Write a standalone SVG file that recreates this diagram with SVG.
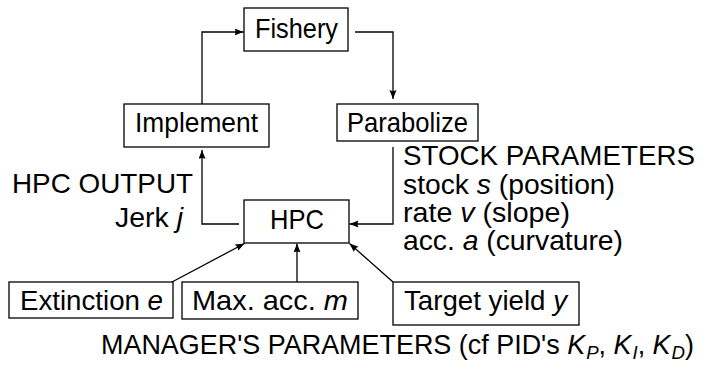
<svg xmlns="http://www.w3.org/2000/svg" width="704" height="365" viewBox="0 0 704 365">
  <style>
    .box { fill: #ffffff; stroke: #000000; stroke-width: 1.3; }
    .wire { fill: none; stroke: #000000; stroke-width: 1.3; }
    text { font-family: "Liberation Sans", Arial, sans-serif; font-size: 27.5px; fill: #000000; }
    .it { font-style: italic; }
    .sub { font-size: 19px; font-style: italic; }
  </style>
  <defs>
    <marker id="tip" markerUnits="userSpaceOnUse" markerWidth="10" markerHeight="8" refX="9" refY="3.5" orient="auto">
      <path d="M0,0 L9,3.5 L0,7 Q2,3.5 0,0 Z" fill="#000000"/>
    </marker>
  </defs>
  <rect width="704" height="365" fill="#ffffff"/>

  <!-- loop connectors -->
  <g id="connectors" class="wire">
    <path class="wire" d="M202,104 V32 H243.5" marker-end="url(#tip)"/>
    <path class="wire" d="M355,32 H393 V99" marker-end="url(#tip)"/>
    <path class="wire" d="M393,147 V224 H349.5" marker-end="url(#tip)"/>
    <path class="wire" d="M239,224 H202 V150" marker-end="url(#tip)"/>
    <path class="wire" d="M297,282 V243.5" marker-end="url(#tip)"/>
    <path class="wire" d="M172,282 L244.5,243.5" marker-end="url(#tip)"/>
    <path class="wire" d="M393,282 L349.5,243.5" marker-end="url(#tip)"/>
  </g>

  <g id="fishery">
    <rect class="box" x="244" y="8" width="104" height="43"/>
    <text x="255" y="37.5" textLength="83" lengthAdjust="spacingAndGlyphs">Fishery</text>
  </g>

  <g id="implement">
    <rect class="box" x="124" y="104" width="145" height="43"/>
    <text x="135" y="132" textLength="123" lengthAdjust="spacingAndGlyphs">Implement</text>
  </g>

  <g id="parabolize">
    <rect class="box" x="337" y="104" width="141" height="37"/>
    <text x="347" y="132" textLength="121" lengthAdjust="spacingAndGlyphs">Parabolize</text>
  </g>

  <g id="hpc">
    <rect class="box" x="244" y="200" width="105" height="43"/>
    <text x="270" y="229" textLength="54" lengthAdjust="spacingAndGlyphs">HPC</text>
  </g>

  <g id="hpc-output">
    <text x="12" y="193" textLength="181" lengthAdjust="spacingAndGlyphs">HPC OUTPUT</text>
    <text x="115" y="227" textLength="68" lengthAdjust="spacingAndGlyphs">Jerk <tspan class="it">j</tspan></text>
  </g>

  <g id="stock-parameters">
    <text x="403" y="165" textLength="292" lengthAdjust="spacingAndGlyphs">STOCK PARAMETERS</text>
    <text x="403" y="194" textLength="212" lengthAdjust="spacingAndGlyphs">stock <tspan class="it">s</tspan> (position)</text>
    <text x="403" y="222" textLength="167" lengthAdjust="spacingAndGlyphs">rate <tspan class="it">v</tspan> (slope)</text>
    <text x="403" y="250" textLength="220" lengthAdjust="spacingAndGlyphs">acc.  <tspan class="it">a</tspan> (curvature)</text>
  </g>

  <g id="extinction">
    <rect class="box" x="9" y="282" width="164" height="36"/>
    <text x="20" y="310" textLength="143" lengthAdjust="spacingAndGlyphs">Extinction <tspan class="it">e</tspan></text>
  </g>

  <g id="max-acc">
    <rect class="box" x="182" y="282" width="176" height="37"/>
    <text x="192" y="310" textLength="156" lengthAdjust="spacingAndGlyphs">Max.  acc.  <tspan class="it">m</tspan></text>
  </g>

  <g id="target-yield">
    <rect class="box" x="393" y="282" width="186" height="43"/>
    <text x="404" y="310" textLength="163" lengthAdjust="spacingAndGlyphs">Target yield <tspan class="it">y</tspan></text>
  </g>

  <g id="manager-parameters">
    <text x="101" y="354" textLength="593" lengthAdjust="spacingAndGlyphs">MANAGER'S PARAMETERS (cf PID's <tspan class="it">K</tspan><tspan class="sub" dx="1" dy="5">P</tspan><tspan dy="-5">, </tspan><tspan class="it">K</tspan><tspan class="sub" dx="1" dy="5">I</tspan><tspan dy="-5">, </tspan><tspan class="it">K</tspan><tspan class="sub" dx="1" dy="5">D</tspan><tspan dy="-5">)</tspan></text>
  </g>
</svg>
